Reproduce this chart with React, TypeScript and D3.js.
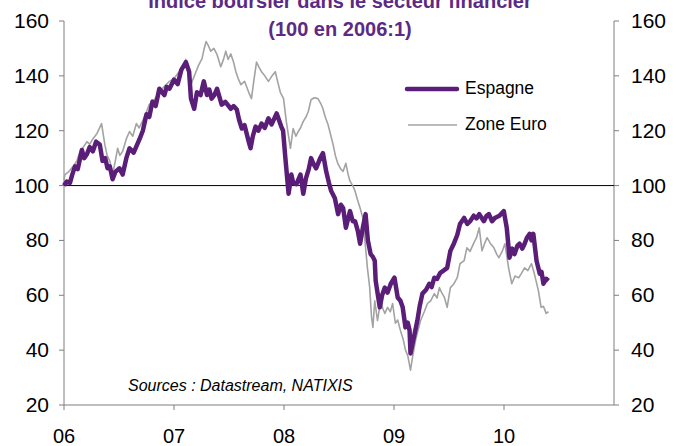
import React from 'react';
import * as d3 from 'd3';

// months since January 2006
const espagneMonths = [0, 0.3, 0.65, 0.9, 1.2, 1.5, 1.95, 2.2, 2.5, 2.8, 3.15, 3.5, 3.9, 4.2, 4.5, 4.75, 5.0, 5.3, 5.6, 6.05, 6.4, 6.8, 7.15, 7.6, 8.25, 8.6, 9.0, 9.3, 9.65, 10.0, 10.4, 10.95, 11.2, 11.5, 12.0, 12.4, 12.8, 13.3, 13.65, 13.85, 14.2, 14.5, 14.9, 15.25, 15.6, 15.85, 16.1, 16.4, 16.7, 17.2, 17.6, 18.2, 18.5, 18.85, 19.1, 19.4, 19.7, 20.15, 20.35, 20.6, 20.9, 21.2, 21.55, 21.9, 22.3, 22.65, 23.2, 23.7, 23.9, 24.15, 24.5, 24.8, 25.0, 25.35, 25.8, 26.1, 26.4, 26.7, 26.95, 27.2, 27.5, 27.95, 28.25, 28.6, 28.9, 29.15, 29.55, 29.9, 30.2, 30.45, 30.75, 31.0, 31.2, 31.5, 31.75, 32.05, 32.3, 32.6, 32.9, 33.15, 33.45, 33.7, 33.9, 34.0, 34.2, 34.45, 34.7, 35.0, 35.3, 35.65, 36.05, 36.4, 36.7, 36.95, 37.25, 37.5, 37.7, 37.8, 38.0, 38.25, 38.55, 38.8, 39.1, 39.5, 39.85, 40.1, 40.4, 40.7, 41.05, 41.4, 41.8, 42.15, 42.55, 42.9, 43.2, 43.65, 44.0, 44.3, 44.7, 45.0, 45.3, 45.8, 46.1, 46.35, 46.7, 47.0, 47.5, 47.98, 48.3, 48.6, 48.9, 49.15, 49.45, 49.7, 50.0, 50.25, 50.5, 50.8, 51.0, 51.2, 51.55, 51.9, 52.1, 52.3, 52.6, 52.85];
const espagneValues = [100, 101.5, 101, 104, 107, 106, 113, 110, 111.4, 114, 112.5, 116, 115, 109, 110, 106.3, 107, 102.3, 105, 106.3, 104, 110, 113.6, 112, 117, 120, 126, 125, 130.6, 129, 135.3, 133, 136, 135.3, 138.6, 137, 142.2, 145, 141.5, 131.7, 128, 134, 133, 138, 133, 135, 131.7, 133, 135.3, 129.5, 130.5, 128, 129, 127.7, 124, 120.8, 122, 116, 113.6, 118, 121.5, 120, 122.6, 121, 124.5, 122.3, 126.3, 121.5, 120, 110, 97, 104, 101, 100.5, 104, 97, 102.7, 106, 110, 108, 106.3, 110, 111.8, 105.2, 101, 98, 95.4, 89.6, 93, 91.8, 84.6, 88, 90.7, 87, 87, 83.5, 78.8, 84.6, 89.6, 80, 75, 74, 72.6, 65.3, 61, 55.6, 60, 62.8, 61, 64.2, 66.4, 59.2, 58, 55.6, 48.3, 50, 47.2, 38.8, 42, 46, 50.8, 56, 60.6, 62, 64.2, 63, 66.4, 66, 68.2, 69, 70, 76.2, 79, 82, 86, 88.2, 86, 87, 89, 88, 89.6, 87, 89, 89.6, 87, 88.2, 89, 90.7, 84.6, 73.7, 77, 75, 78, 78.8, 77, 78.8, 81, 82.4, 80, 82.4, 72.6, 67.9, 68.5, 64.2, 66, 65.3];

const euroMonths = [0, 0.1, 0.5, 1.0, 1.4, 1.75, 2.1, 2.5, 2.8, 3.15, 3.6, 4.1, 4.45, 4.7, 5.0, 5.3, 5.6, 5.85, 6.1, 6.4, 6.8, 7.15, 7.5, 7.9, 8.2, 8.55, 8.9, 9.3, 9.8, 10.4, 10.9, 11.5, 12.0, 12.55, 12.9, 13.3, 13.6, 13.85, 14.1, 14.4, 14.7, 15.05, 15.3, 15.5, 15.75, 16.0, 16.35, 16.7, 17.1, 17.4, 17.65, 17.9, 18.2, 18.5, 18.75, 19.0, 19.3, 19.7, 20.15, 20.45, 20.7, 21.0, 21.3, 21.55, 21.9, 22.3, 22.7, 23.05, 23.3, 23.6, 23.95, 24.25, 24.7, 25.0, 25.3, 25.55, 25.8, 26.1, 26.4, 26.65, 26.95, 27.3, 27.7, 28.0, 28.25, 28.5, 28.8, 29.05, 29.35, 29.6, 29.9, 30.2, 30.45, 30.75, 31.0, 31.2, 31.5, 31.75, 32.0, 32.3, 32.6, 32.9, 33.1, 33.35, 33.55, 33.7, 33.9, 34.2, 34.55, 34.8, 35.0, 35.3, 35.6, 35.85, 36.15, 36.4, 36.7, 37.0, 37.25, 37.5, 37.8, 38.05, 38.35, 38.6, 38.9, 39.3, 39.65, 40.0, 40.4, 40.7, 40.95, 41.2, 41.5, 41.8, 42.15, 42.5, 42.9, 43.2, 43.65, 43.95, 44.3, 44.7, 45.0, 45.3, 45.6, 45.9, 46.15, 46.5, 46.9, 47.2, 47.45, 47.8, 48.1, 48.5, 48.85, 49.2, 49.6, 49.9, 50.25, 50.6, 51.0, 51.3, 51.75, 52.05, 52.3, 52.6, 52.85];
const euroValues = [102, 104, 105, 107, 109, 112.5, 114, 116, 115, 117, 119, 122.6, 115, 111, 109, 104, 109, 113.6, 111, 112.5, 117, 119.7, 118, 122.6, 121, 123.4, 126, 129.5, 131, 134, 136, 138, 139, 141.5, 143, 146, 142, 136.8, 139, 141.5, 144, 146.2, 150, 152.5, 151, 149, 150, 147.7, 143.3, 146, 149, 146, 148, 145, 141.5, 139, 136.8, 138, 134, 131.7, 138, 145, 143, 141.5, 140, 138, 140, 141.5, 138, 134, 131.7, 123.4, 113.6, 120.8, 118, 119.7, 121, 123.4, 125, 127, 131.3, 132, 131.7, 130, 128, 125, 122.3, 119, 115, 111, 107.8, 106, 105.2, 108.1, 104, 101.6, 100, 98, 95, 91.8, 88.2, 77.3, 70, 62.8, 52, 48.3, 58, 50.8, 58, 55, 53.4, 55.6, 54, 57, 49.8, 51, 47.2, 44, 40, 38, 32.7, 38, 43.6, 47, 50.8, 54, 57, 58, 60.6, 59, 62.8, 61, 59.2, 55.6, 62.8, 64, 66.4, 71.5, 72.6, 77.3, 76, 79, 81, 84.6, 76.2, 79, 81, 79, 77.3, 75, 73.7, 76, 78.8, 70, 64.2, 67, 66.4, 68, 70, 69, 71.5, 68, 61.7, 55.6, 56, 53.4, 54];

const yTicks = [20, 40, 60, 80, 100, 120, 140, 160];
const xTicks = [0, 12, 24, 36, 48];
const xTickLabels = ['06', '07', '08', '09', '10'];

const purple = '#5a1e78';
const grey = '#a3a3a3';
const font = "Arial, 'Liberation Sans', sans-serif";

export default function App() {
    const width = 680;
    const height = 446;
    const left = 64;
    const right = 614;
    const top = 21;
    const bottom = 405;

    const x = d3.scaleLinear().domain([0, 60]).range([left, right]);
    const y = d3.scaleLinear().domain([20, 160]).range([bottom, top]);

    const espagne = espagneMonths.map((m, i) => [m, espagneValues[i]] as [number, number]);
    const euro = euroMonths.map((m, i) => [m, euroValues[i]] as [number, number]);

    const line = d3.line<[number, number]>()
        .x(d => x(d[0]))
        .y(d => y(d[1]))
        .curve(d3.curveLinear);

    const axisColor = '#7f7f7f';

    return (
        <svg width={width} height={height} style={{ position: 'absolute', left: 0, top: 0, background: '#fff' }} fontFamily={font}>
            <text x={340} y={8} textAnchor="middle" fontSize={20} fontWeight="bold" fill="#5c2a84">Indice boursier dans le secteur financier</text>
            <text x={340} y={36} textAnchor="middle" fontSize={20} fontWeight="bold" fill="#5c2a84">(100 en 2006:1)</text>

            {/* axes */}
            <line x1={left} x2={left} y1={top} y2={bottom} stroke={axisColor} />
            <line x1={right} x2={right} y1={top} y2={bottom} stroke={axisColor} />
            <line x1={left} x2={right} y1={bottom} y2={bottom} stroke={axisColor} />
            {yTicks.map(t => (
                <g key={t}>
                    <line x1={left - 5} x2={left} y1={y(t)} y2={y(t)} stroke={axisColor} />
                    <line x1={right} x2={right + 5} y1={y(t)} y2={y(t)} stroke={axisColor} />
                    <text x={49} y={y(t) + 7} textAnchor="end" fontSize={21}>{t}</text>
                    <text x={631} y={y(t) + 7} textAnchor="start" fontSize={21}>{t}</text>
                </g>
            ))}
            {xTicks.map((t, i) => (
                <g key={t}>
                    <line x1={x(t)} x2={x(t)} y1={bottom} y2={bottom + 5} stroke={axisColor} />
                    <text x={x(t)} y={443} textAnchor="middle" fontSize={20}>{xTickLabels[i]}</text>
                </g>
            ))}

            <line x1={left} x2={right} y1={y(100)} y2={y(100)} stroke="#000" strokeWidth={1} />

            <path d={line(euro) || ''} fill="none" stroke={grey} strokeWidth={1.6} strokeLinejoin="round" />
            <path d={line(espagne) || ''} fill="none" stroke={purple} strokeWidth={4.5} strokeLinejoin="round" />

            {/* legend */}
            <line x1={407} x2={457} y1={89} y2={89} stroke={purple} strokeWidth={4.5} strokeLinecap="round" />
            <text x={465} y={94} fontSize={17.5}>Espagne</text>
            <line x1={408} x2={457} y1={125} y2={125} stroke={grey} strokeWidth={1.6} />
            <text x={465} y={130} fontSize={17.5}>Zone Euro</text>

            <text x={128} y={391} fontSize={16} fontStyle="italic">Sources : Datastream, NATIXIS</text>
        </svg>
    );
}
